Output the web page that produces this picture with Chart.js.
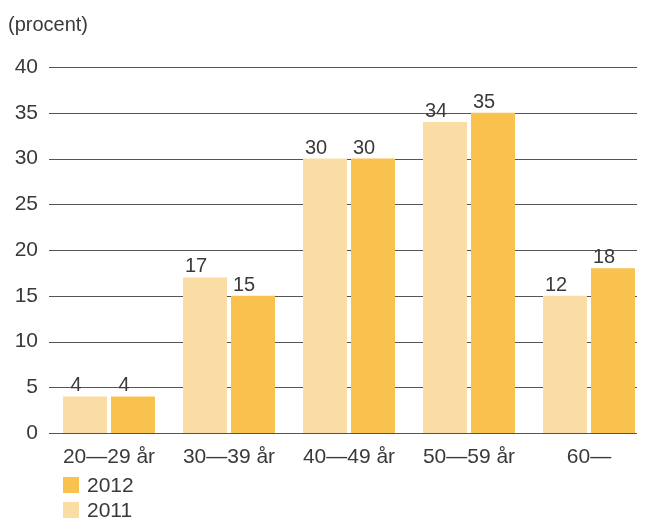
<!DOCTYPE html>
<html>
<head>
<meta charset="utf-8">
<script src="https://cdn.jsdelivr.net/npm/chart.js@4.4.0/dist/chart.umd.min.js"></script>
<style>
  html, body { margin: 0; padding: 0; overflow: hidden; background: #fff; }
  body { width: 647px; height: 518px; position: relative; font-family: "Liberation Sans", Arial, sans-serif; color: #3a3a3a; }
  #wrap { position: absolute; left: 0; top: 0; }
  #unit { position: absolute; left: 8px; top: 14px; font-size: 20px; line-height: 20px; }
  .leg { position: absolute; left: 63px; font-size: 21px; line-height: 21px; height: 21px; }
  .leg span.box { position: absolute; left: 0; top: 3px; width: 16px; height: 16px; }
  .leg span.txt { position: absolute; left: 24px; top: 0; white-space: nowrap; }
</style>
</head>
<body>
<div id="wrap"><canvas id="chart-canvas" width="660" height="518"></canvas></div>
<div id="unit">(procent)</div>
<div class="leg" style="top:474px"><span class="box" id="box2012"></span><span class="txt">2012</span></div>
<div class="leg" style="top:499px"><span class="box" id="box2011"></span><span class="txt">2011</span></div>
<script>
// values
const categories = ["20\u201429 år", "30\u201439 år", "40\u201449 år", "50\u201459 år", "60\u2014"];
const values2011 = [4, 17, 30, 34, 15];
const values2012 = [4, 15, 30, 35, 18];
// printed labels (the 60- label for 2011 says 12 though the bar reaches 15)
const labels2011 = ["4", "17", "30", "34", "12"];
const labels2012 = ["4", "15", "30", "35", "18"];
const yTicks = [0, 5, 10, 15, 20, 25, 30, 35, 40];

const color2011 = "#FADDA4";
const color2012 = "#F9C24F";
const textColor = "#3a3a3a";
const fontFamily = '"Liberation Sans", Arial, sans-serif';

document.getElementById("box2011").style.background = color2011;
document.getElementById("box2012").style.background = color2012;

// horizontal grid lines, drawn behind the bars and stopping short of the canvas edge
const gridPlugin = {
    id: "gridLines",
    beforeDatasetsDraw: function(chart){
        const ctx = chart.ctx;
        const y = chart.scales.y;
        ctx.save();
        ctx.strokeStyle = "#555";
        ctx.lineWidth = 1;
        yTicks.forEach(function(v){
            const py = Math.round(y.getPixelForValue(v)) + 0.5;
            ctx.beginPath();
            ctx.moveTo(chart.chartArea.left, py);
            ctx.lineTo(637, py);
            ctx.stroke();
        });
        ctx.restore();
    }
};

// value labels above each bar
const labelPlugin = {
    id: "barLabels",
    afterDatasetsDraw: function(chart){
        const ctx = chart.ctx;
        const allLabels = [labels2011, labels2012];
        ctx.save();
        ctx.font = "20px " + fontFamily;
        ctx.fillStyle = textColor;
        ctx.textAlign = "center";
        ctx.textBaseline = "alphabetic";
        chart.data.datasets.forEach(function(ds, i){
            chart.getDatasetMeta(i).data.forEach(function(bar, j){
                ctx.fillText(allLabels[i][j], bar.x - 9, bar.y - 5);
            });
        });
        ctx.restore();
    }
};

const chart = new Chart("chart-canvas", {
    type: "bar",
    data: {
        labels: categories,
        datasets: [
            { label: "2011", data: values2011, backgroundColor: color2011, borderWidth: 0 },
            { label: "2012", data: values2012, backgroundColor: color2012, borderWidth: 0 }
        ]
    },
    options: {
        responsive: false,
        animation: false,
        devicePixelRatio: 1,
        categoryPercentage: 0.8,
        barPercentage: 0.9167,
        layout: { padding: { top: 67, right: 11, left: 0, bottom: 0 } },
        plugins: {
            legend: { display: false },
            tooltip: { enabled: false },
            title: { display: false }
        },
        scales: {
            x: {
                grid: { display: false, drawTicks: false },
                border: { display: false },
                ticks: {
                    color: textColor,
                    font: { family: fontFamily, size: 21 },
                    padding: 12,
                    maxRotation: 0,
                    autoSkip: false
                },
                afterFit: function(s){ s.height = 85; }
            },
            y: {
                min: 0,
                max: 40,
                grid: { display: false, drawTicks: false },
                border: { display: false },
                ticks: {
                    stepSize: 5,
                    color: textColor,
                    font: { family: fontFamily, size: 21 },
                    padding: 11
                },
                afterFit: function(s){ s.width = 49; }
            }
        }
    },
    plugins: [gridPlugin, labelPlugin]
});
</script>
</body>
</html>
